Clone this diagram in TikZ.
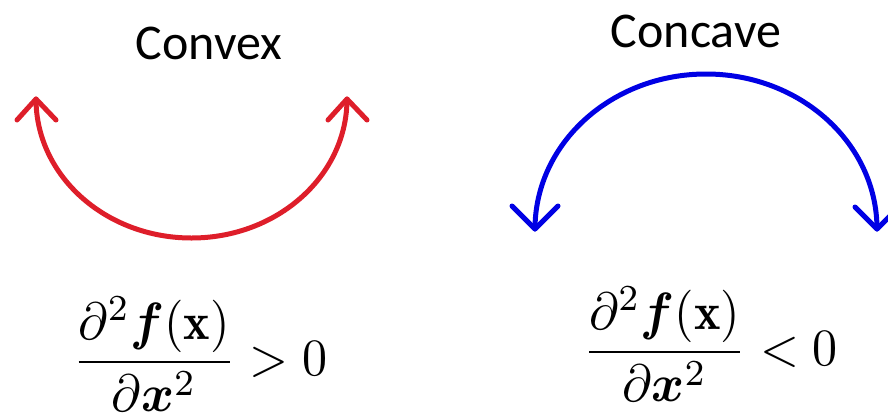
\documentclass[tikz,border=0pt]{standalone}
\usepackage{amsmath,bm}
\usepackage{fontspec}
\newfontfamily\lblfont{Carlito}
\definecolor{cvxred}{RGB}{222,30,42}
\definecolor{ccvblue}{RGB}{0,0,228}
\begin{document}
\begin{tikzpicture}[x=1pt,y=-1pt,
  lbl/.style={font=\lblfont\fontsize{50}{60}\selectfont, inner sep=0pt, anchor=base},
  arcline/.style={line width=5pt, line cap=round, line join=round},
  frm/.style={inner sep=0pt}]
\useasboundingbox (0,0) rectangle (888,413);
\clip (0,0) rectangle (888,413);
% labels
\node[lbl] (cvx) at (209,59) {Convex};
\node[lbl] (ccv) at (696,47) {Concave};
% convex arc
\coordinate (cl) at (36,99);
\coordinate (cr) at (347,99);
\draw[arcline, cvxred] (cl) arc[start angle=180, end angle=0, x radius=155.5, y radius=139];
\draw[arcline, cvxred] (17,120) -- (cl) -- (56,120);
\draw[arcline, cvxred] (328,120) -- (cr) -- (367,120);
% concave arc
\coordinate (kl) at (535,229);
\coordinate (kr) at (877,229);
\draw[arcline, ccvblue] (kl) arc[start angle=180, end angle=360, x radius=171, y radius=155];
\draw[arcline, ccvblue] (512,206) -- (kl) -- (558,206);
\draw[arcline, ccvblue] (855,207) -- (kr) -- (899,207);
% formulas
\node[frm] (f1) at (200,354) {\resizebox*{255pt}{114pt}{$\displaystyle\frac{\partial^2\bm{f}(\mathbf{x})}{\partial\bm{x}^2}>0$}};
\node[frm] (f2) at (710.5,344) {\resizebox*{255pt}{114pt}{$\displaystyle\frac{\partial^2\bm{f}(\mathbf{x})}{\partial\bm{x}^2}<0$}};
\end{tikzpicture}
\end{document}
